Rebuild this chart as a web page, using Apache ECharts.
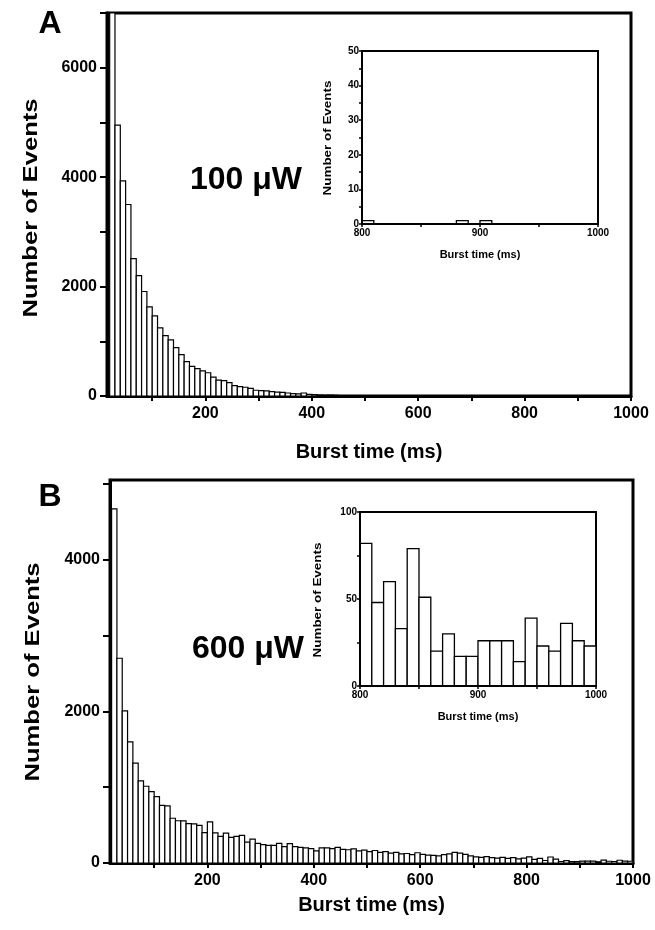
<!DOCTYPE html>
<html>
<head>
<meta charset="utf-8">
<script src="https://cdn.jsdelivr.net/npm/echarts@6.0.0/dist/echarts.min.js"></script>
<style>
html,body{margin:0;padding:0;background:#fff;}
#chart{width:655px;height:930px;}
</style>
</head>
<body>
<div id="chart"></div>
<script>
// ---- data ----
const binStart = 20;      // left edge of first histogram bin (ms)
const binWidth = 10;      // bin width (ms)

// Panel A (100 uW): counts per 10 ms bin, 20 ms .. 1000 ms
const countsA = [
  8200, 4950, 3930, 3500, 2510, 2200, 1910, 1630, 1465, 1245,
  1105, 1025, 885, 755, 630, 540, 500, 460, 425, 345,
  290, 280, 245, 190, 170, 160, 140, 105, 98, 95,
  80, 72, 65, 55, 42, 40, 55, 28, 24, 18,
  14, 16, 12, 6, 4, 0, 0, 0, 0, 0,
  0, 0, 0, 0, 0, 0, 0, 0, 0, 0,
  0, 0, 0, 0, 0, 0, 0, 0, 0, 0,
  0, 0, 0, 0, 0, 0, 0, 0, 1, 0,
  0, 0, 0, 0, 0, 0, 1, 0, 1, 0,
  0, 0, 0, 0, 0, 0, 0, 0
];

// Panel B (600 uW): counts per 10 ms bin, 20 ms .. 1000 ms
const countsB = [
  4670, 2700, 2006, 1597, 1316, 1082, 1012, 941, 875, 761,
  752, 590, 557, 556, 520, 515, 495, 400, 541, 398,
  350, 394, 339, 350, 365, 275, 315, 260, 242, 233,
  233, 260, 215, 255, 215, 207, 200, 189, 160, 200,
  200, 190, 205, 180, 175, 185, 160, 170, 150, 165,
  140, 150, 130, 140, 120, 125, 110, 135, 115, 105,
  100, 95, 110, 120, 140, 130, 115, 95, 80, 75,
  85, 70, 65, 75, 60, 70, 55, 65,
  82, 48, 60, 33, 79, 51, 20, 30, 17, 17,
  26, 26, 26, 14, 39, 23, 20, 36, 26, 23
];

const ticksMainX = [100, 200, 300, 400, 500, 600, 700, 800, 900, 1000];
const labelsMainX = [200, 400, 600, 800, 1000];
const ticksAY = [0, 1000, 2000, 3000, 4000, 5000, 6000, 7000];
const labelsAY = [0, 2000, 4000, 6000];
const ticksBY = [0, 1000, 2000, 3000, 4000, 5000];
const labelsBY = [0, 2000, 4000];
const ticksInsetX = [800, 850, 900, 950, 1000];
const labelsInsetX = [800, 900, 1000];
const ticksInsetAY = [0, 5, 10, 15, 20, 25, 30, 35, 40, 45, 50];
const labelsInsetAY = [0, 10, 20, 30, 40, 50];
const ticksInsetBY = [0, 25, 50, 75, 100];
const labelsInsetBY = [0, 50, 100];

const xTitle = 'Burst time (ms)';
const yTitle = 'Number of Events';
const panelLabels = ['A', 'B'];
const powerLabels = ['100 μW', '600 μW'];

// ---- build histogram rows [x0, x1, count] ----
function toRows(counts) {
  return counts.map((c, i) => [binStart + i * binWidth, binStart + (i + 1) * binWidth, c]);
}
const rowsA = toRows(countsA);
const rowsB = toRows(countsB);

const FONT = '"Liberation Sans", Arial, Helvetica, sans-serif';
const plain = v => String(v);

function histRender(lw) {
  return function (params, api) {
    const v = api.value(2);
    if (!v) return null;
    const p0 = api.coord([api.value(0), 0]);
    const p1 = api.coord([api.value(1), v]);
    const cs = params.coordSys;
    const r = echarts.graphic.clipRectByRect(
      { x: p0[0], y: p1[1], width: p1[0] - p0[0], height: p0[1] - p1[1] },
      { x: cs.x, y: cs.y, width: cs.width, height: cs.height }
    );
    if (!r || r.width < 0.5 || r.height < 0.3) return null;
    return {
      type: 'rect',
      shape: r,
      style: { fill: '#fff', stroke: '#000', lineWidth: lw }
    };
  };
}

function mainX(gridIndex, min, nameGap) {
  return {
    type: 'value', gridIndex, min, max: 1000,
    name: xTitle, nameLocation: 'middle', nameGap,
    nameTextStyle: { fontFamily: FONT, fontWeight: 'bold', fontSize: 20, color: '#000' },
    axisLine: { show: true, onZero: false, lineStyle: { color: '#000', width: 3 } },
    axisTick: { show: true, customValues: ticksMainX, length: 5, lineStyle: { color: '#000', width: 2 } },
    axisLabel: { customValues: labelsMainX, formatter: plain, fontFamily: FONT, fontWeight: 'bold', fontSize: 16, color: '#000', margin: 10 },
    splitLine: { show: false }
  };
}
function mainY(gridIndex, max, ticks, labels) {
  return {
    type: 'value', gridIndex, min: 0, max,
    axisLine: { show: true, onZero: false, lineStyle: { color: '#000', width: 3 } },
    axisTick: { show: true, customValues: ticks, length: 7, lineStyle: { color: '#000', width: 2 } },
    axisLabel: { customValues: labels, formatter: plain, fontFamily: FONT, fontWeight: 'bold', fontSize: 16, color: '#000', margin: 10 },
    splitLine: { show: false }
  };
}
function insetX(gridIndex) {
  return {
    type: 'value', gridIndex, min: 800, max: 1000, z: 6,
    name: xTitle, nameLocation: 'middle', nameGap: 25,
    nameTextStyle: { fontFamily: FONT, fontWeight: 'bold', fontSize: 11, color: '#000' },
    axisLine: { show: true, onZero: false, lineStyle: { color: '#000', width: 2 } },
    axisTick: { show: true, customValues: ticksInsetX, length: 3, lineStyle: { color: '#000', width: 1.5 } },
    axisLabel: { customValues: labelsInsetX, formatter: plain, fontFamily: FONT, fontWeight: 'bold', fontSize: 10, color: '#000', margin: 4 },
    splitLine: { show: false }
  };
}
function insetY(gridIndex, max, ticks, labels) {
  return {
    type: 'value', gridIndex, min: 0, max, z: 6,
    axisLine: { show: true, onZero: false, lineStyle: { color: '#000', width: 2 } },
    axisTick: { show: true, customValues: ticks, length: 3, lineStyle: { color: '#000', width: 1.5 } },
    axisLabel: { customValues: labels, formatter: plain, fontFamily: FONT, fontWeight: 'bold', fontSize: 10, color: '#000', margin: 3 },
    splitLine: { show: false }
  };
}

function vText(text, x, y, size, stretch) {
  return {
    type: 'text', x, y, rotation: Math.PI / 2, scaleX: stretch, z: 10,
    style: { text, font: 'bold ' + size + 'px ' + FONT, fill: '#000',
      textAlign: 'center', textVerticalAlign: 'middle', align: 'center', verticalAlign: 'middle' }
  };
}
function hText(text, x, y, size) {
  return {
    type: 'text', x, y, z: 10,
    style: { text, font: 'bold ' + size + 'px ' + FONT, fill: '#000',
      textAlign: 'center', textVerticalAlign: 'middle', align: 'center', verticalAlign: 'middle' }
  };
}

const chart = echarts.init(document.getElementById('chart'), null, { renderer: 'canvas' });
chart.setOption({
  backgroundColor: '#fff',
  animation: false,
  grid: [
    { left: 107, top: 13, width: 524, height: 383, show: true, borderColor: '#000', borderWidth: 3, backgroundColor: 'transparent', z: 0 },
    { left: 362, top: 51, width: 236, height: 173, show: true, borderColor: '#000', borderWidth: 2, backgroundColor: '#fff', z: 5 },
    { left: 110, top: 480, width: 523, height: 383, show: true, borderColor: '#000', borderWidth: 3, backgroundColor: 'transparent', z: 0 },
    { left: 360, top: 512, width: 236, height: 174, show: true, borderColor: '#000', borderWidth: 2, backgroundColor: '#fff', z: 5 }
  ],
  xAxis: [mainX(0, 15, 46), insetX(1), mainX(2, 17, 32), insetX(3)],
  yAxis: [
    mainY(0, 7000, ticksAY, labelsAY),
    insetY(1, 50, ticksInsetAY, labelsInsetAY),
    mainY(2, 5050, ticksBY, labelsBY),
    insetY(3, 100, ticksInsetBY, labelsInsetBY)
  ],
  series: [
    { type: 'custom', name: '100 uW', xAxisIndex: 0, yAxisIndex: 0, data: rowsA, renderItem: histRender(1.2), encode: { x: [0, 1], y: 2 }, z: 2 },
    { type: 'custom', name: '100 uW inset', xAxisIndex: 1, yAxisIndex: 1, data: rowsA, renderItem: histRender(1.3), encode: { x: [0, 1], y: 2 }, z: 6 },
    { type: 'custom', name: '600 uW', xAxisIndex: 2, yAxisIndex: 2, data: rowsB, renderItem: histRender(1.2), encode: { x: [0, 1], y: 2 }, z: 2 },
    { type: 'custom', name: '600 uW inset', xAxisIndex: 3, yAxisIndex: 3, data: rowsB, renderItem: histRender(1.3), encode: { x: [0, 1], y: 2 }, z: 6 }
  ],
  graphic: [
    hText(panelLabels[0], 50, 24, 32),
    hText(panelLabels[1], 50, 497, 32),
    hText(powerLabels[0], 246, 180, 32),
    hText(powerLabels[1], 248, 649, 32),
    vText(yTitle, 31, 208, 21, 1.22),
    vText(yTitle, 33, 672, 21, 1.22),
    vText(yTitle, 328, 138, 11, 1.22),
    vText(yTitle, 318, 600, 11, 1.22)
  ]
});
</script>
</body>
</html>
